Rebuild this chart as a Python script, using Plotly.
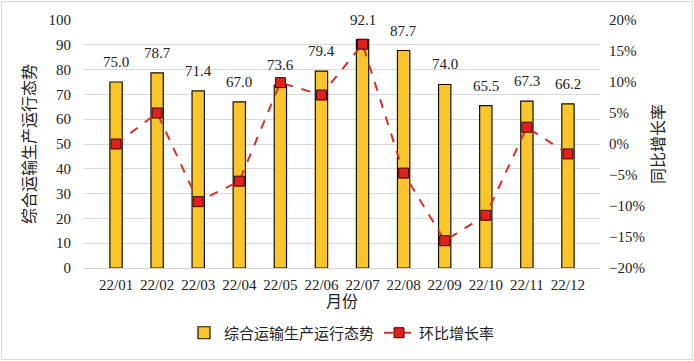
import plotly.graph_objects as go

months = ["22/01", "22/02", "22/03", "22/04", "22/05", "22/06",
          "22/07", "22/08", "22/09", "22/10", "22/11", "22/12"]
trend = [75.0, 78.7, 71.4, 67.0, 73.6, 79.4, 92.1, 87.7, 74.0, 65.5, 67.3, 66.2]
mom_pct = [0.0, 5.0, -9.3, -6.0, 9.9, 7.9, 16.1, -4.7, -15.6, -11.5, 2.7, -1.6]
mom = [v / 100 for v in mom_pct]

bar_name = "综合运输生产运行态势"
line_name = "环比增长率"
y2_title = "同比增长率"
x_title = "月份"

FONT = "Liberation Serif, Noto Sans CJK SC, serif"

fig = go.Figure()
fig.add_trace(go.Bar(
    x=months, y=trend, name=bar_name,
    marker=dict(color="#FCC52A", line=dict(color="#111111", width=1.2)),
    width=0.3,
))
fig.add_trace(go.Scatter(
    x=months, y=mom, name=line_name, yaxis="y2", mode="lines+markers",
    line=dict(color="#D9302B", width=2, dash="dash"),
    marker=dict(symbol="square", size=10, color="#E0201C",
                line=dict(color="#3a0a0a", width=1)),
))

for m, v in zip(months, trend):
    fig.add_annotation(x=m, y=v, text=f"{v:.1f}", showarrow=False,
                       yanchor="bottom", yshift=10,
                       font=dict(family=FONT, size=15, color="#222"))

# outer border
W, H = 694, 361
l, r, t, b = 84, 94, 20, 93
pw, ph = W - l - r, H - t - b
fig.add_shape(type="rect", xref="paper", yref="paper",
              x0=(1.5 - l) / pw, x1=(W - 1.5 - l) / pw,
              y0=-(b - 1.5) / ph, y1=1 + (t - 1.5) / ph,
              line=dict(color="#d9d9d9", width=1), layer="below")

fig.update_layout(
    width=W, height=H,
    margin=dict(l=l, r=r, t=t, b=b, autoexpand=False),
    plot_bgcolor="white", paper_bgcolor="white",
    font=dict(family=FONT, size=15, color="#333"),
    showlegend=True,
    legend=dict(orientation="h", x=0.5, xanchor="center", y=-0.262,
                yanchor="middle", font=dict(size=15, color="#222"),
                traceorder="normal"),
    xaxis=dict(
        title=dict(text=x_title, font=dict(size=16, color="#222"), standoff=2),
        showgrid=False, showline=True, linecolor="#d0d0d0", linewidth=1,
        ticks="", tickfont=dict(size=15, color="#222"), ticklabelstandoff=3,
    ),
    yaxis=dict(
        title=dict(text=bar_name, font=dict(size=16, color="#222"), standoff=8),
        range=[0, 100], dtick=10, showgrid=True, gridcolor="#d9d9d9",
        zeroline=False, tickfont=dict(size=15, color="#222"), ticks="",
        ticklabelstandoff=12,
    ),
    yaxis2=dict(
        title=dict(text=y2_title, font=dict(size=16, color="#222"), standoff=8),
        overlaying="y", side="right", range=[-0.2, 0.2], dtick=0.05,
        tickformat=".0%", showgrid=False, zeroline=False,
        tickfont=dict(size=15, color="#222"), ticks="", ticklabelstandoff=8,
    ),
)

fig.write_html("out.html", post_script="document.body.style.margin='0';",
               config={"displayModeBar": False})
